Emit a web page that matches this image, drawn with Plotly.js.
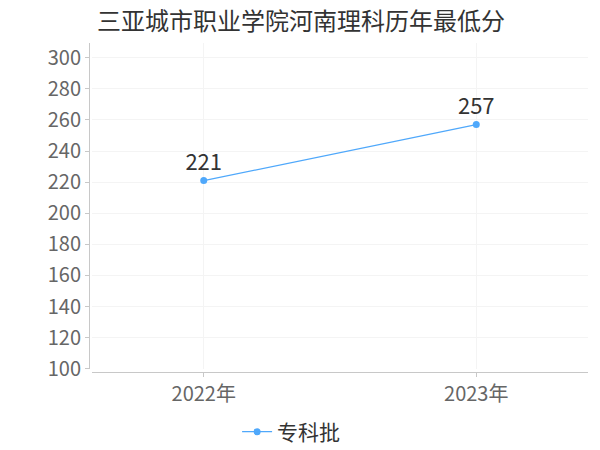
<!DOCTYPE html>
<html>
<head>
<meta charset="utf-8">
<script src="https://cdn.plot.ly/plotly-3.0.1.min.js"></script>
<style>
    html, body { margin: 0; padding: 0; background: #fff; }
    #chart { width: 600px; height: 450px; }
</style>
</head>
<body>
<div id="chart"></div>
<script>
    // ── Data ──
    const years  = ['2022年', '2023年'];
    const scores = [221, 257];
    const seriesName = '专科批';
    const yTicks = [100, 120, 140, 160, 180, 200, 220, 240, 260, 280, 300];

    const FONT = '"Noto Sans CJK SC", "Noto Sans", sans-serif';

    Plotly.newPlot('chart', [{
        x: years, y: scores,
        name: seriesName,
        type: 'scatter', mode: 'lines+markers+text',
        text: scores.map(String),
        textposition: 'top center',
        textfont: { family: FONT, size: 22, color: '#333' },
        line: { color: '#4fa8fb', width: 1.2 },
        marker: { size: 7, color: '#4fa8fb' },
        cliponaxis: false,
        hoverinfo: 'none'
    }], {
        width: 600, height: 450,
        margin: { t: 43, r: 12, b: 78, l: 89, autoexpand: false },
        title: {
            text: '三亚城市职业学院河南理科历年最低分',
            font: { family: FONT, size: 24, color: '#333' },
            x: 0, xref: 'paper', xanchor: 'left',
            y: 0.952, yref: 'container', yanchor: 'middle', pad: { l: 8 }
        },
        showlegend: true,
        legend: {
            orientation: 'h', x: 0.405, xanchor: 'center', itemwidth: 30,
            yref: 'container', y: 0.04, yanchor: 'middle',
            font: { family: FONT, size: 21, color: '#333' }
        },
        xaxis: {
            type: 'category',
            range: [-0.41, 1.41],
            domain: [0.006, 1],
            anchor: 'free', position: 0,
            showline: true, linecolor: '#c8c8c8', linewidth: 1,
            ticks: 'outside', ticklen: 4, tickcolor: '#c8c8c8',
            showgrid: true, gridcolor: '#f4f4f4',
            tickfont: { family: FONT, size: 20, color: '#666' },
            zeroline: false, mirror: false
        },
        yaxis: {
            range: [100, 309.5],
            domain: [0.01, 1],
            anchor: 'free', position: 0,
            tickvals: yTicks,
            showline: true, linecolor: '#c8c8c8', linewidth: 1,
            ticks: 'outside', ticklen: 4, tickcolor: '#c8c8c8',
            showgrid: true, gridcolor: '#f4f4f4',
            tickfont: { family: FONT, size: 20, color: '#666' },
            zeroline: false
        },
        paper_bgcolor: '#fff',
        plot_bgcolor: '#fff',
        font: { family: FONT }
    }, { displayModeBar: false, staticPlot: true });
</script>
</body>
</html>
